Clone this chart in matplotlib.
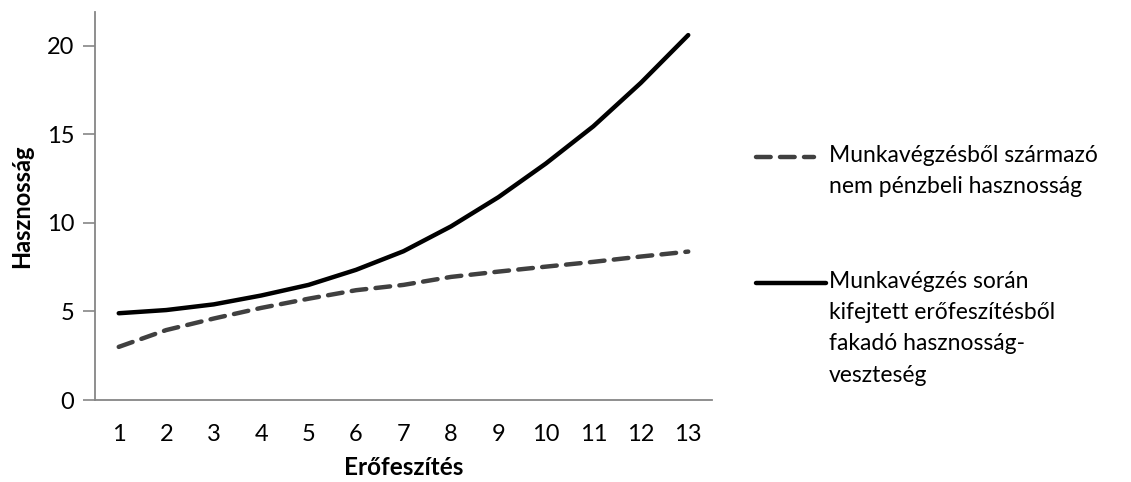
import matplotlib.pyplot as plt
from matplotlib.lines import Line2D

plt.rcParams['font.family'] = ['Lato', 'DejaVu Sans']

effort = [1, 2, 3, 4, 5, 6, 7, 8, 9, 10, 11, 12, 13]
utility_gain = [3.0, 3.95, 4.6, 5.2, 5.72, 6.2, 6.5, 6.95, 7.25, 7.53, 7.8, 8.1, 8.38]
utility_loss = [4.9, 5.08, 5.4, 5.9, 6.5, 7.35, 8.4, 9.8, 11.45, 13.35, 15.45, 17.9, 20.6]

label_gain = "Munkavégzésből származó\nnem pénzbeli hasznosság"
label_loss = "Munkavégzés során\nkifejtett erőfeszítésből\nfakadó hasznosság-\nveszteség"

fig = plt.figure(figsize=(11.31, 4.82), dpi=100)
ax = fig.add_axes([0.084, 0.170, 0.5455, 0.805])

ax.plot(effort, utility_gain, color='#404040', lw=3.2, dashes=(3.3, 2.1),
        dash_capstyle='round', solid_capstyle='round')
ax.plot(effort, utility_loss, color='black', lw=3.2, solid_capstyle='round')

ax.set_xlim(0.5, 13.5)
ax.set_ylim(0, 21.9)
ax.set_xticks(effort)
ax.set_yticks([0, 5, 10, 15, 20])
ax.tick_params(axis='x', length=0, pad=17, labelsize=17)
ax.tick_params(axis='y', length=9, width=1.2, color='#868686', pad=6, labelsize=17)

for s in ['top', 'right']:
    ax.spines[s].set_visible(False)
for s in ['left', 'bottom']:
    ax.spines[s].set_color('#868686')
    ax.spines[s].set_linewidth(1.3)

ax.set_xlabel('Erőfeszítés', fontsize=17.5, fontweight='bold', labelpad=8)
ax.set_ylabel('Hasznosság', fontsize=17, fontweight='bold', labelpad=10)

# hand-made legend on the right
def fx(px):
    return px / 1131

def fy(py):
    return 1 - py / 482

fig.add_artist(Line2D([fx(756), fx(814)], [fy(157), fy(157)], color='#404040', lw=3.2,
                      dashes=(3.3, 2.1), dash_capstyle='round', solid_capstyle='round'))
fig.add_artist(Line2D([fx(756), fx(826)], [fy(283), fy(283)], color='black', lw=3.2,
                      solid_capstyle='round'))
fig.text(fx(829), fy(145), label_gain, fontsize=16.5, va='top', ha='left',
         linespacing=1.6)
fig.text(fx(829), fy(271), label_loss, fontsize=16.5, va='top', ha='left',
         linespacing=1.6)

fig.savefig('out.png', dpi=100)
